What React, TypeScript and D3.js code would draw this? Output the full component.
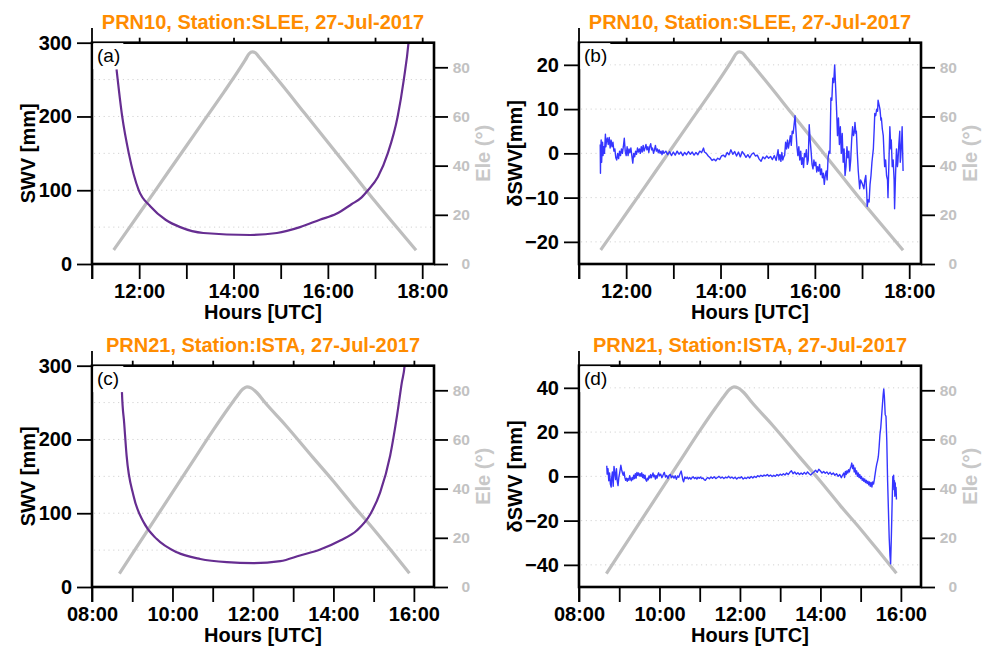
import React, { useEffect, useRef } from "react";
import * as d3 from "d3";

// satellite elevation (hours UTC, degrees)
const eleSlee: [number, number][] = [
  [11.46, 5.7], [11.8, 15], [12.2, 26], [12.6, 37], [13.0, 48], [13.4, 59], [13.8, 70],
  [14.1, 78.5], [14.25, 83], [14.33, 85.5], [14.4, 86.3], [14.47, 85.8], [14.55, 84],
  [14.7, 80.5], [15.0, 73.5], [15.5, 61.5], [16.0, 49.5], [16.5, 37.5], [17.0, 25.5],
  [17.5, 14], [17.87, 5.6],
];
const eleIsta: [number, number][] = [
  [8.68, 5.4], [9.0, 13.5], [9.5, 26], [10.0, 38.5], [10.5, 51], [11.0, 63.5], [11.4, 73],
  [11.6, 77.5], [11.75, 80.5], [11.85, 81.4], [11.95, 81], [12.1, 79], [12.3, 75],
  [12.8, 66], [13.5, 52.5], [14.0, 43], [14.5, 33], [15.0, 23.5], [15.5, 13.5], [15.89, 5.6],
];

// slant water vapour (mm)
const swvSlee: [number, number][] = [
  [11.52, 264], [11.64, 200], [11.78, 150], [11.99, 100], [12.24, 78], [12.56, 60],
  [12.87, 50], [13.36, 42], [14.35, 39.3], [14.92, 42], [15.41, 50], [15.83, 60],
  [16.18, 68], [16.5, 81], [16.71, 90], [16.85, 100], [17.06, 118], [17.27, 150],
  [17.48, 200], [17.61, 250], [17.71, 300], [17.76, 340],
];
const swvIsta: [number, number][] = [
  [8.735, 310], [8.745, 263], [8.8, 222], [8.86, 178], [9.03, 124], [9.28, 88], [9.61, 65],
  [10.11, 47], [10.69, 38], [11.35, 33.7], [12.01, 32.4], [12.68, 35], [13.17, 42.7],
  [13.67, 50.8], [14.17, 63], [14.58, 76.5], [14.92, 99], [15.16, 128], [15.41, 178],
  [15.58, 232], [15.7, 277], [15.77, 300], [15.8, 320],
];

// SWV residuals (mm)
const dswvSlee: [number, number][] = [
  [11.45, 2], [11.455, -4.5], [11.46, 0.5], [11.47, 3], [11.48, -2], [11.49, 1], [11.5, 2.5],
  [11.51, -0.5], [11.52, 1.5], [11.54, 0], [11.56, 4.3], [11.57, 1.5], [11.58, 2.5], [11.6, 3.5],
  [11.62, 2], [11.64, 3.6], [11.66, 1.2], [11.68, 3], [11.7, 1.5], [11.72, 2.5], [11.74, 0.5],
  [11.76, 1], [11.78, -1], [11.8, -1.5], [11.82, 0], [11.84, -1.2], [11.86, 0.5], [11.88, -0.5],
  [11.9, 1], [11.92, 0], [11.94, 1.5], [11.96, 3.4], [11.98, 0.5], [12.0, -0.5], [12.02, 1.5],
  [12.04, -0.5], [12.06, 1], [12.08, 0.2], [12.1, 1.2], [12.12, -0.5], [12.14, -2.2], [12.16, 0],
  [12.18, -0.8], [12.2, 0.5], [12.22, -0.2], [12.24, 1.2], [12.26, 0.3], [12.28, 1], [12.3, 0],
  [12.32, 1.5], [12.34, 0.3], [12.36, 1.8], [12.38, 0.5], [12.4, 1.2], [12.42, 2], [12.44, 0.8],
  [12.46, 1.5], [12.48, 0.2], [12.5, 1.5], [12.52, 2.2], [12.54, 0.8], [12.56, 1.2], [12.58, 0],
  [12.6, 0.8], [12.62, 1.8], [12.64, 0.5], [12.66, 1], [12.68, 0.2], [12.7, 0.8], [12.72, 0],
  [12.74, 0.5], [12.76, -0.3], [12.78, 0.6], [12.8, 0], [12.84, 0.5], [12.88, -0.3], [12.92, 0.4],
  [12.96, -0.5], [13.0, 0.3], [13.04, -0.4], [13.08, 0.5], [13.12, -0.2], [13.16, 0.3],
  [13.2, -0.5], [13.24, 0.2], [13.28, -0.3], [13.32, 0.4], [13.36, -0.2], [13.4, 0.3],
  [13.44, -0.4], [13.48, 0.2], [13.52, -0.3], [13.56, 0.5], [13.6, 0.2], [13.64, 1.2],
  [13.66, 0.3], [13.7, 0], [13.74, -0.6], [13.78, -1], [13.82, -1.6], [13.86, -1.3], [13.9, -1.7],
  [13.94, -1.1], [13.98, -1.4], [14.02, -0.6], [14.06, -0.4], [14.1, -0.8], [14.14, 0.2],
  [14.18, -0.3], [14.22, 0.8], [14.26, -0.2], [14.3, 0.4], [14.34, -0.6], [14.38, 0.3],
  [14.42, -0.8], [14.46, 0.4], [14.5, -0.2], [14.54, -0.9], [14.58, -0.3], [14.62, -1],
  [14.66, -0.2], [14.7, 0.1], [14.74, -0.6], [14.78, -0.4], [14.82, -1.3], [14.86, -1.8],
  [14.9, -0.8], [14.94, -1.2], [14.98, -0.6], [15.02, -1.1], [15.06, -0.7], [15.1, -1.4],
  [15.14, -0.5], [15.18, -1.6], [15.22, 0.8], [15.24, -1.5], [15.26, -0.3], [15.28, -1.8],
  [15.3, 0.2], [15.32, -1.5], [15.34, -0.8], [15.36, -0.4], [15.38, 2.5], [15.4, 1], [15.42, 3],
  [15.44, 1.2], [15.46, 2.5], [15.48, 4], [15.5, 1.8], [15.52, 5], [15.54, 4.5], [15.56, 6.5],
  [15.58, 8.5], [15.6, 5], [15.62, 1.5], [15.64, -0.5], [15.66, 1.5], [15.68, -1.5], [15.7, 0.5],
  [15.72, -2.5], [15.74, -1], [15.76, -3.2], [15.78, 0], [15.8, -0.8], [15.82, 0.8], [15.84, -2.5],
  [15.86, -1.5], [15.88, 6.5], [15.9, 3], [15.92, 0.5], [15.94, -2.5], [15.96, -3.5], [15.98, -1.5],
  [16.0, -2.8], [16.02, -2], [16.04, -4.2], [16.06, -3], [16.08, -4], [16.1, -2.5], [16.12, -4.8],
  [16.14, -3.5], [16.16, -5.5], [16.18, -4.5], [16.2, -7], [16.22, -5], [16.24, -4], [16.26, -6],
  [16.28, -1], [16.3, 0.5], [16.32, 0], [16.34, 12.5], [16.36, 12], [16.38, 17], [16.4, 16],
  [16.42, 20], [16.44, 15], [16.46, 10], [16.48, 4], [16.5, 8], [16.52, 2], [16.54, 6], [16.56, 0],
  [16.58, 4.5], [16.6, -2], [16.62, 1], [16.64, -5], [16.66, -3], [16.68, 1.5], [16.7, -1],
  [16.72, 0.5], [16.74, -4], [16.76, -1.5], [16.78, 3], [16.8, 6], [16.82, 4], [16.84, 5],
  [16.85, 7], [16.87, 4.5], [16.88, 5], [16.9, 0], [16.92, -4], [16.95, -8], [16.97, -6],
  [16.99, -6.5], [17.01, -7], [17.04, -8], [17.06, -6], [17.08, -5], [17.1, -9], [17.11, -12],
  [17.13, -10.5], [17.15, -11], [17.17, -7], [17.19, -5], [17.21, -2], [17.24, 1], [17.26, 6],
  [17.27, 9], [17.29, 8.5], [17.31, 10], [17.33, 9.5], [17.34, 12], [17.36, 11], [17.38, 10],
  [17.4, 7.5], [17.41, 8], [17.43, 5.5], [17.45, 4], [17.47, -1], [17.48, -3], [17.5, -1.5],
  [17.52, -5], [17.54, -6], [17.55, -10], [17.57, -2], [17.59, 6], [17.61, 1], [17.62, 3],
  [17.64, -3], [17.66, -1.5], [17.68, -6], [17.69, -12.5], [17.71, -5], [17.73, 1], [17.75, -3],
  [17.76, -2], [17.78, 2], [17.8, 5], [17.81, -2], [17.82, -1], [17.84, 3], [17.85, 6], [17.87, -4],
];
const dswvIsta: [number, number][] = [
  [8.69, 4.8], [8.7, 1], [8.72, 3.5], [8.74, -2], [8.76, 1.5], [8.78, -3.5], [8.8, -4.8],
  [8.81, -1], [8.83, 2], [8.85, -4.5], [8.87, 4.5], [8.89, 1.5], [8.91, -1.5], [8.93, 3.5],
  [8.95, -2], [8.97, -4.2], [8.99, -0.5], [9.01, 1.5], [9.04, 5], [9.06, 3], [9.08, 1.5],
  [9.1, 0.5], [9.12, 2], [9.14, -0.5], [9.16, -1.8], [9.18, -0.8], [9.2, -2.2], [9.22, -1],
  [9.24, -1.8], [9.26, 0.3], [9.28, -1.2], [9.3, -2], [9.32, -0.5], [9.34, -1.5], [9.36, 0.5],
  [9.38, -1], [9.4, 1.2], [9.42, -0.8], [9.44, 1.8], [9.46, 0.5], [9.48, 1.5], [9.5, 0.2],
  [9.52, 1.2], [9.54, 0], [9.56, 1.6], [9.58, -0.5], [9.6, 0.8], [9.62, -1], [9.64, 0.5],
  [9.66, -1.5], [9.68, -2.2], [9.7, -0.8], [9.72, -1.6], [9.74, 0.2], [9.76, -0.8], [9.78, 0.8],
  [9.8, -0.6], [9.82, 0.5], [9.84, 1.5], [9.86, -0.2], [9.88, 0.6], [9.9, -1.2], [9.92, 0.3],
  [9.94, -0.8], [9.96, 0.8], [9.98, 1.6], [10.0, 0.2], [10.03, 1], [10.06, -0.6], [10.09, 0.6],
  [10.12, 1.8], [10.15, -0.3], [10.18, 0.4], [10.21, -1], [10.24, 0.5], [10.27, 0.8],
  [10.3, -0.6], [10.33, 0.2], [10.36, -0.8], [10.39, 0.3], [10.42, -1.3], [10.45, 0.2],
  [10.48, -0.4], [10.51, 1.2], [10.54, 2.4], [10.56, 0.5], [10.58, -1.5], [10.6, -2.5],
  [10.63, -0.3], [10.66, -1], [10.69, -0.4], [10.72, -1.2], [10.75, -0.5], [10.78, -1.3],
  [10.81, -0.6], [10.84, -0.2], [10.87, -1], [10.9, -0.5], [10.93, -1.2], [10.96, -0.4],
  [10.99, -0.9], [11.02, -0.3], [11.05, -1], [11.08, -0.7], [11.11, -1.5], [11.14, -1.8],
  [11.17, -1], [11.2, -0.5], [11.24, -1.1], [11.28, -0.3], [11.32, -0.9], [11.36, -0.2],
  [11.4, -1], [11.44, -0.5], [11.48, 0], [11.52, -0.8], [11.56, -0.3], [11.6, -1], [11.64, -0.4],
  [11.68, -0.7], [11.72, 0], [11.76, -0.8], [11.8, -0.3], [11.84, -1], [11.88, -0.4],
  [11.92, -1.2], [11.96, -0.5], [12.0, -0.8], [12.04, -0.2], [12.08, -1.2], [12.12, -0.6],
  [12.16, -1], [12.2, -0.3], [12.24, -0.9], [12.28, -0.1], [12.32, -0.7], [12.36, 0],
  [12.4, -0.5], [12.44, 0.3], [12.48, -0.2], [12.52, 0.5], [12.56, 0], [12.6, 0.6], [12.64, 0.2],
  [12.68, 0.8], [12.72, 0.1], [12.76, 0.6], [12.8, -0.1], [12.84, 0.5], [12.88, 0], [12.92, 0.8],
  [12.96, 0.3], [13.0, 1], [13.04, 0.5], [13.08, 1.2], [13.12, 0.6], [13.16, 1.5], [13.2, 0.8],
  [13.24, 1.8], [13.28, 2.5], [13.32, 1.2], [13.36, 2], [13.4, 1], [13.44, 1.6], [13.48, 0.8],
  [13.52, 1.5], [13.56, 0.9], [13.6, 1.8], [13.64, 1], [13.68, 2], [13.72, 1.2], [13.76, 0.6],
  [13.8, 1.4], [13.84, 2], [13.88, 2.8], [13.92, 1.8], [13.96, 3.2], [14.0, 2.4], [14.04, 1.5],
  [14.08, 2.2], [14.12, 1.4], [14.16, 2], [14.2, 1], [14.24, 1.8], [14.28, 0.8], [14.32, 1.5],
  [14.36, 0.5], [14.4, 1.2], [14.44, 0], [14.48, 0.8], [14.52, -0.6], [14.55, 0.5], [14.58, 1.5],
  [14.6, -0.5], [14.62, 2.2], [14.64, 0.8], [14.66, 2.5], [14.68, 1.5], [14.7, 3], [14.72, 2],
  [14.74, 3.5], [14.76, 4.5], [14.78, 6], [14.8, 3.5], [14.82, 5], [14.84, 2], [14.86, 3.8],
  [14.88, 1], [14.9, 2.5], [14.92, 0], [14.94, 1.5], [14.96, -0.5], [14.98, 0.8], [15.0, -1],
  [15.02, 0], [15.04, -1.8], [15.06, -0.8], [15.08, -2.2], [15.1, -1.2], [15.12, -2.8],
  [15.14, -1.8], [15.16, -3.2], [15.18, -2.2], [15.2, -3.8], [15.22, -2.5], [15.24, -4.5],
  [15.26, -2.8], [15.28, -4.8], [15.3, -2.5], [15.32, -3.5], [15.34, -1.5], [15.36, 1],
  [15.38, 3.5], [15.4, 5.5], [15.42, 7], [15.44, 9], [15.46, 13.5], [15.48, 19], [15.5, 22],
  [15.52, 27], [15.54, 32], [15.56, 37], [15.575, 39.5], [15.59, 36], [15.61, 28], [15.63, 27],
  [15.65, 16], [15.67, -2], [15.69, -15], [15.71, -28], [15.73, -36], [15.745, -39.5],
  [15.765, -26], [15.785, -10], [15.8, 0], [15.81, -2], [15.82, 0.5], [15.83, -6], [15.84, -2],
  [15.85, -9], [15.86, -3], [15.87, -8], [15.88, -5], [15.89, -10.5],
];

const hoursSlee = [11, 12, 13, 14, 15, 16, 17, 18];
const hoursIsta = [8, 9, 10, 11, 12, 13, 14, 15, 16];
const swvTicks = [0, 100, 200, 300];
const swvGrid = [50, 100, 150, 200, 250];
const dTicksSlee = [-20, -10, 0, 10, 20];
const dTicksIsta = [-40, -20, 0, 20, 40];
const eleTicks = [0, 20, 40, 60, 80];

const FONT = "'Liberation Sans', Arial, Helvetica, sans-serif";
const PW = 342;
const PH = 221.3;

const panels = [
  {
    key: "a", title: "PRN10, Station:SLEE, 27-Jul-2017", left: 92, top: 42.7,
    xDomain: [11, 18.25], hours: hoursSlee, yDomain: [0, 300], yTicks: swvTicks,
    grid: swvGrid, yLabel: "SWV [mm]", ele: eleSlee, data: swvSlee,
    color: "#662d91", lw: 2.2, smooth: true,
  },
  {
    key: "b", title: "PRN10, Station:SLEE, 27-Jul-2017", left: 579, top: 42.7,
    xDomain: [11, 18.25], hours: hoursSlee, yDomain: [-25, 25], yTicks: dTicksSlee,
    grid: dTicksSlee, yLabel: "\u03b4SWV[mm]", ele: eleSlee, data: dswvSlee,
    color: "#3535ff", lw: 1.4, smooth: false,
  },
  {
    key: "c", title: "PRN21, Station:ISTA, 27-Jul-2017", left: 92, top: 365.7,
    xDomain: [8, 16.5], hours: hoursIsta, yDomain: [0, 300], yTicks: swvTicks,
    grid: swvGrid, yLabel: "SWV [mm]", ele: eleIsta, data: swvIsta,
    color: "#662d91", lw: 2.2, smooth: true,
  },
  {
    key: "d", title: "PRN21, Station:ISTA, 27-Jul-2017", left: 579, top: 365.7,
    xDomain: [8, 16.5], hours: hoursIsta, yDomain: [-50, 50], yTicks: dTicksIsta,
    grid: dTicksIsta, yLabel: "\u03b4SWV [mm]", ele: eleIsta, data: dswvIsta,
    color: "#3535ff", lw: 1.4, smooth: false,
  },
];

const hhmm = (h: number) => String(h).padStart(2, "0") + ":00";

function drawPanel(svg: any, p: any) {
  const x = d3.scaleLinear().domain(p.xDomain).range([0, PW]);
  const y = d3.scaleLinear().domain(p.yDomain).range([PH, 0]);
  const yEle = d3.scaleLinear().domain([0, 90]).range([PH, 0]);

  const g = svg.append("g").attr("transform", `translate(${p.left},${p.top})`);

  g.append("clipPath").attr("id", "clip-" + p.key)
    .append("rect").attr("width", PW).attr("height", PH);

  // dotted grid
  g.append("g").selectAll("line").data(p.grid).join("line")
    .attr("x1", 2).attr("x2", PW - 2)
    .attr("y1", (d: number) => y(d)).attr("y2", (d: number) => y(d))
    .attr("stroke", "#d2d2d2").attr("stroke-width", 1)
    .attr("stroke-dasharray", "1.2,3.6");

  const plot = g.append("g").attr("clip-path", `url(#clip-${p.key})`);

  const eleLine = d3.line<[number, number]>()
    .x(d => x(d[0])).y(d => yEle(d[1]))
    .curve(d3.curveMonotoneX);
  plot.append("path").datum(p.ele).attr("d", eleLine)
    .attr("fill", "none").attr("stroke", "#bebebe").attr("stroke-width", 3.2)
    .attr("stroke-linejoin", "round");

  const dataLine = d3.line<[number, number]>()
    .x(d => x(d[0])).y(d => y(d[1]))
    .curve(p.smooth ? d3.curveMonotoneX : d3.curveLinear);
  plot.append("path").datum(p.data).attr("d", dataLine)
    .attr("fill", "none").attr("stroke", p.color).attr("stroke-width", p.lw)
    .attr("stroke-linejoin", "round");

  // frame
  g.append("rect").attr("width", PW).attr("height", PH)
    .attr("fill", "none").attr("stroke", "#000").attr("stroke-width", 2.6);

  // panel letter on a white box
  g.append("rect").attr("x", 1.3).attr("y", 0.4).attr("width", 30).attr("height", 26)
    .attr("fill", "#fff");
  g.append("text").attr("x", 5).attr("y", 19).text(`(${p.key})`)
    .attr("font-family", FONT).attr("font-size", 19).attr("fill", "#000");

  // left spine sticks out above and below the frame
  g.append("line").attr("x1", 0).attr("x2", 0).attr("y1", -14.7).attr("y2", PH + 15)
    .attr("stroke", "#000").attr("stroke-width", 1.8);

  const style = (ax: any, size: number, color: string) => {
    ax.select(".domain").remove();
    ax.selectAll("line").attr("stroke", "#000").attr("stroke-width", 1.8);
    ax.selectAll("text").attr("font-family", FONT).attr("font-weight", "bold")
      .attr("font-size", size).attr("fill", color);
  };

  const left = g.append("g").call(
    d3.axisLeft(y).tickValues(p.yTicks).tickSize(15).tickPadding(5)
      .tickFormat(d3.format("d")) as any);
  style(left, 20, "#000");

  const bottom = g.append("g").attr("transform", `translate(0,${PH})`).call(
    d3.axisBottom(x).tickValues(p.hours).tickSize(15).tickPadding(5)
      .tickFormat((d: any) => (d % 2 === 0 ? hhmm(d) : "")) as any);
  style(bottom, 20, "#000");

  const top = g.append("g").call(
    d3.axisTop(x).tickValues(p.hours.slice(1)).tickSize(5).tickFormat(() => "") as any);
  style(top, 10, "#000");

  const right = g.append("g").attr("transform", `translate(${PW},0)`).call(
    d3.axisRight(yEle).tickValues(eleTicks).tickSize(14).tickPadding(5) as any);
  style(right, 15.5, "#c2c2c2");
  right.selectAll("text").attr("text-anchor", "end").attr("x", 36);

  // titles and axis names
  g.append("text").attr("x", PW / 2).attr("y", -13.5).attr("text-anchor", "middle")
    .attr("font-family", FONT).attr("font-weight", "bold").attr("font-size", 20)
    .attr("fill", "#ff8c00").text(p.title);

  g.append("text").attr("x", PW / 2).attr("y", PH + 55).attr("text-anchor", "middle")
    .attr("font-family", FONT).attr("font-weight", "bold").attr("font-size", 20)
    .attr("fill", "#000").text("Hours [UTC]");

  g.append("text").attr("transform", `translate(-57,${PH / 2}) rotate(-90)`)
    .attr("text-anchor", "middle").attr("font-family", FONT).attr("font-weight", "bold")
    .attr("font-size", 20).attr("fill", "#000").text(p.yLabel);

  g.append("text").attr("transform", `translate(${PW + 56},${PH / 2}) rotate(-90)`)
    .attr("text-anchor", "middle").attr("font-family", FONT).attr("font-weight", "bold")
    .attr("font-size", 20).attr("fill", "#c8c8c8").text("Ele (\u00b0)");
}

export default function App() {
  const ref = useRef<SVGSVGElement>(null);

  useEffect(() => {
    const svg = d3.select(ref.current);
    svg.selectAll("*").remove();
    svg.append("rect").attr("width", 986).attr("height", 646).attr("fill", "#fff");
    panels.forEach(p => drawPanel(svg, p));
  }, []);

  return (
    <svg
      ref={ref}
      width={986}
      height={646}
      style={{ position: "absolute", left: 0, top: 0, display: "block" }}
    />
  );
}
